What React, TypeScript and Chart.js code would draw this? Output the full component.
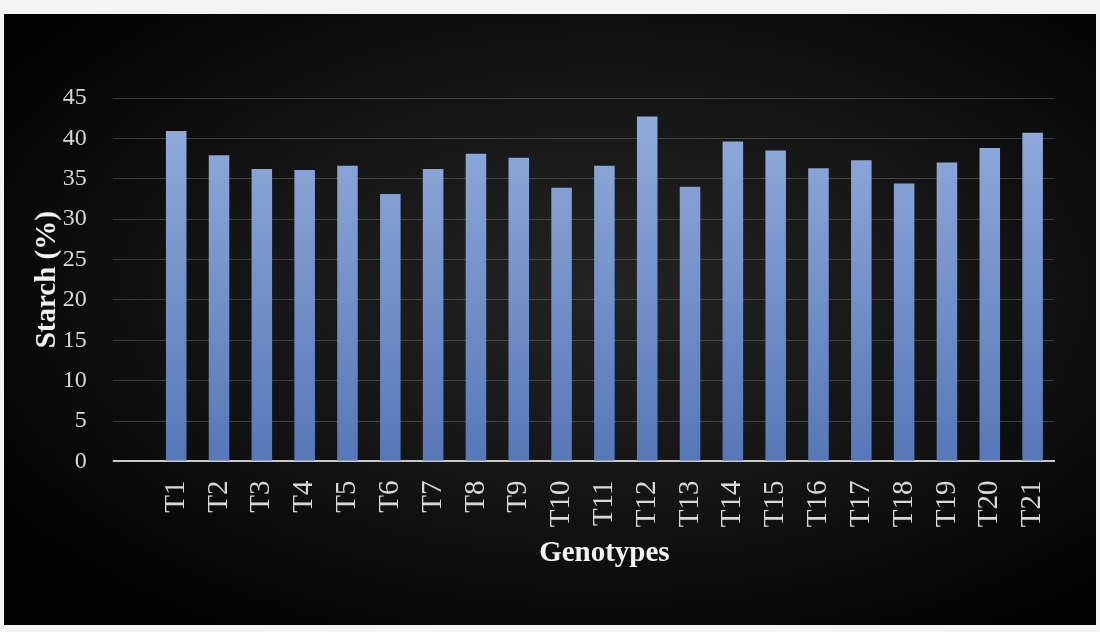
import React, { useEffect, useRef } from "react";
import { Chart, registerables } from "chart.js";

Chart.register(...registerables);

const categories = ["T1","T2","T3","T4","T5","T6","T7","T8","T9","T10","T11","T12","T13","T14","T15","T16","T17","T18","T19","T20","T21"];
const starchValues = [40.9, 37.9, 36.2, 36.1, 36.6, 33.1, 36.2, 38.1, 37.6, 33.9, 36.6, 42.7, 34.0, 39.6, 38.5, 36.3, 37.3, 34.4, 37.0, 38.8, 40.7];
const yTicks = [0, 5, 10, 15, 20, 25, 30, 35, 40, 45];
const xTitle = "Genotypes";
const yTitle = "Starch (%)";

const SERIF = "'Liberation Serif', 'Times New Roman', serif";

export default function App() {
  const ref = useRef<HTMLCanvasElement | null>(null);

  useEffect(() => {
    document.body.style.margin = "0";
    const canvas = ref.current;
    if (!canvas) return;
    const chart = new Chart(canvas, {
      type: "bar",
      data: {
        labels: categories,
        datasets: [
          {
            label: yTitle,
            data: starchValues,
            backgroundColor: (ctx: any) => {
              const area = ctx.chart.chartArea;
              if (!area) return "#7a98d0";
              const g = ctx.chart.ctx.createLinearGradient(0, area.top, 0, area.bottom);
              g.addColorStop(0, "#94aedd");
              g.addColorStop(1, "#5677b8");
              return g;
            },
            borderWidth: 0,
            barPercentage: 0.48,
            categoryPercentage: 1,
          },
        ],
      },
      options: {
        animation: false,
        responsive: false,
        maintainAspectRatio: false,
        layout: { padding: { left: 26, right: 42, top: 84, bottom: 54 } },
        plugins: { legend: { display: false }, tooltip: { enabled: false } },
        scales: {
          x: {
            grid: { display: false, drawTicks: false },
            border: { display: true, color: "#c8c8c8", width: 2 },
            ticks: {
              color: "#d8d8d8",
              font: { family: SERIF, size: 29 },
              minRotation: 90,
              maxRotation: 90,
              padding: 19,
              autoSkip: false,
            },
            title: {
              display: true,
              text: xTitle,
              color: "#f2f2f2",
              font: { family: SERIF, size: 29, weight: "bold" },
              padding: { top: -10, bottom: 0 },
            },
          },
          y: {
            min: 0,
            max: 45,
            afterBuildTicks: (axis: any) => {
              axis.ticks = yTicks.map((v) => ({ value: v }));
            },
            grid: {
              color: (ctx: any) => (ctx.tick && ctx.tick.value === 0 ? "#c8c8c8" : "rgba(150,150,150,0.35)"),
              tickColor: (ctx: any) => (ctx.tick && ctx.tick.value === 0 ? "#c8c8c8" : "rgba(150,150,150,0.35)"),
              lineWidth: (ctx: any) => (ctx.tick && ctx.tick.value === 0 ? 2 : 1),
              tickLength: 42,
              drawTicks: true,
            },
            border: { display: false },
            ticks: {
              color: "#d8d8d8",
              font: { family: SERIF, size: 24 },
              padding: 26,
            },
            title: {
              display: true,
              text: yTitle,
              color: "#f2f2f2",
              font: { family: SERIF, size: 29, weight: "bold" },
              padding: { top: 0, bottom: -28 },
            },
          },
        },
      },
    });
    return () => chart.destroy();
  }, []);

  return (
    <div style={{ position: "fixed", left: 0, top: 0, width: 1100, height: 632, background: "#f4f4f4" }}>
      <div
        style={{
          position: "absolute",
          left: 4,
          top: 14,
          width: 1092,
          height: 611,
          background: "radial-gradient(ellipse at 55% 45%, #232323 0%, #141414 45%, #020202 85%)",
        }}
      >
        <canvas ref={ref} width={1092} height={611} style={{ display: "block" }} />
      </div>
    </div>
  );
}
